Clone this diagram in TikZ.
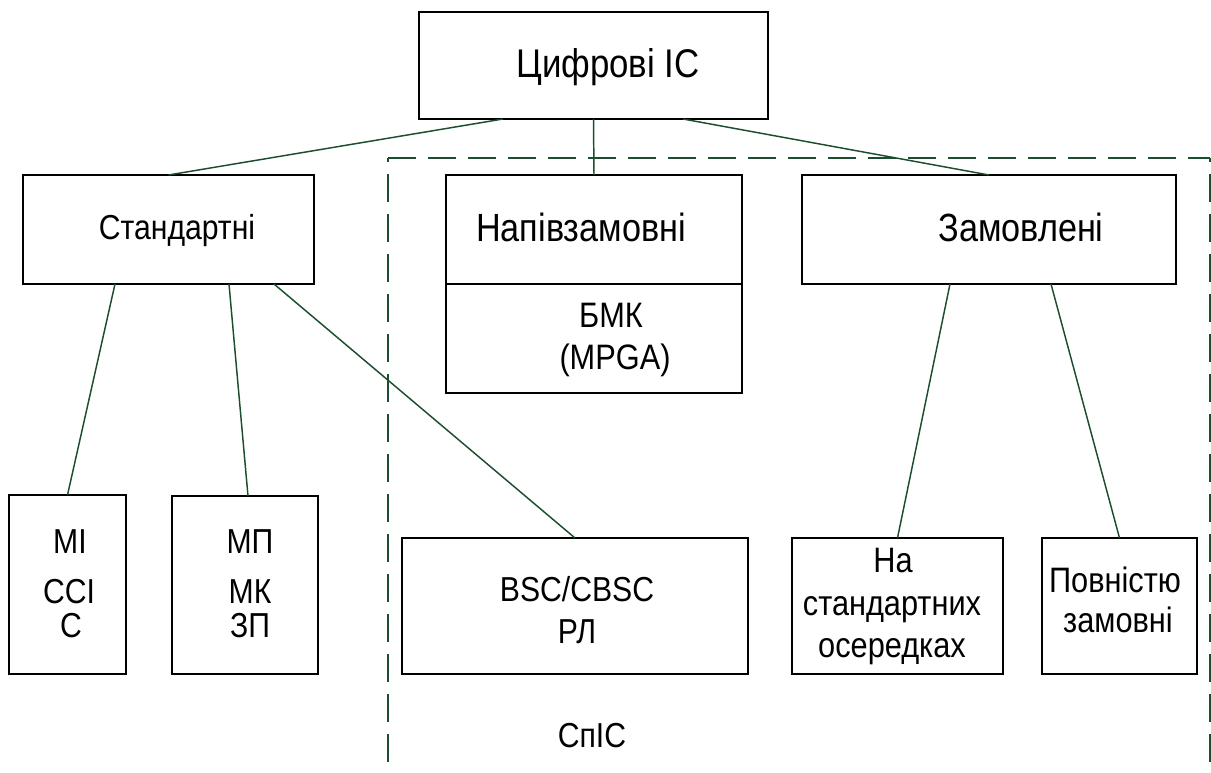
\documentclass[tikz,border=0pt]{standalone}
\usepackage{fontspec}
\setmainfont{Liberation Sans}[FakeStretch=0.87]
\definecolor{lg}{RGB}{28,78,45}
\begin{document}
\begin{tikzpicture}[x=0.75pt,y=-0.75pt,
  box/.style={draw=black, line width=1.3pt, inner sep=0pt, outer sep=0pt},
  conn/.style={draw=lg, line width=1.1pt},
  dsh/.style={draw=lg, line width=1.4pt, dash pattern=on 21pt off 9pt},
  lbl/.style={inner sep=0pt, anchor=base, font=\fontsize{26}{30}\selectfont},
  big/.style={font=\fontsize{30}{34}\selectfont},
  mid/.style={font=\fontsize{29.5}{33}\selectfont},
  sml/.style={font=\fontsize{26.5}{30}\selectfont}]
\useasboundingbox (0,0) rectangle (1211,773);

% dashed region
\coordinate (d1) at (388,158);
\coordinate (d2) at (1210,158);
\coordinate (d3) at (388,773);
\coordinate (d4) at (1210,773);
\draw[dsh] (d1) -- (d2);
\draw[dsh, dash phase=-12pt] (d1) -- (d3);
\draw[dsh, dash phase=-12pt] (d2) -- (d4);

% boxes
\node[box, minimum width=261.75pt, minimum height=80.25pt] (top) at (593.5,65.5) {};
\node[box, minimum width=218.25pt, minimum height=81.75pt] (std) at (168.5,229.5) {};
\node[box, minimum width=222pt, minimum height=81.75pt] (napA) at (594,229.5) {};
\node[box, minimum width=222pt, minimum height=81.75pt] (napB) at (594,338.5) {};
\node[box, minimum width=280.5pt, minimum height=81.75pt] (zam) at (989,229.5) {};
\node[box, minimum width=87.75pt, minimum height=134.25pt] (mi) at (67.5,584.5) {};
\node[box, minimum width=109.5pt, minimum height=133.5pt] (mp) at (245,585) {};
\node[box, minimum width=259.5pt, minimum height=102pt] (bsc) at (575,606) {};
\node[box, minimum width=158.25pt, minimum height=102pt] (na) at (897.5,606) {};
\node[box, minimum width=116.25pt, minimum height=102pt] (pov) at (1119.5,606) {};

% connectors
\draw[conn] ([xshift=-67.875pt]top.south) -- (std.north);
\draw[conn] (top.south) -- (napA.north);
\draw[conn] ([xshift=67.125pt]top.south) -- (zam.north);
\draw[conn] ([xshift=-40.125pt]std.south) -- (mi.north);
\draw[conn] ([xshift=45.375pt]std.south) -- ([xshift=2.25pt]mp.north);
\draw[conn] ([xshift=79.125pt]std.south) -- (bsc.north);
\draw[conn] ([xshift=-29.25pt]zam.south) -- (na.north);
\draw[conn] ([xshift=46.5pt]zam.south) -- (pov.north);

% labels
\node[lbl, big] (t1) at (608,78) {Цифрові ІС};
\node[lbl] (t2) at (177,240) {Стандартні};
\node[lbl, mid] (t3) at (581,242) {Напівзамовні};
\node[lbl, mid] (t4) at (1021,242) {Замовлені};
\node[lbl, sml] (t5) at (611,328) {БМК};
\node[lbl, sml] (t6) at (615,370) {(MPGA)};
\node[lbl] (t7) at (577,601) {BSC/CBSC};
\node[lbl] (t8) at (577,643) {РЛ};
\node[lbl] (t9) at (70,553) {МІ};
\node[lbl] (t10) at (69,603) {ССІ};
\node[lbl] (t11) at (71,637) {С};
\node[lbl] (t12) at (250,553) {МП};
\node[lbl] (t13) at (250,603) {МК};
\node[lbl] (t14) at (250,637) {ЗП};
\node[lbl, sml] (t15) at (893,572) {На};
\node[lbl, sml] (t16) at (892,615) {стандартних};
\node[lbl, sml] (t17) at (892,657) {осередках};
\node[lbl, sml] (t18) at (1115,592) {Повністю};
\node[lbl, sml] (t19) at (1118,633) {замовні};
\node[lbl] (t20) at (592,747) {СпІС};
\end{tikzpicture}
\end{document}
